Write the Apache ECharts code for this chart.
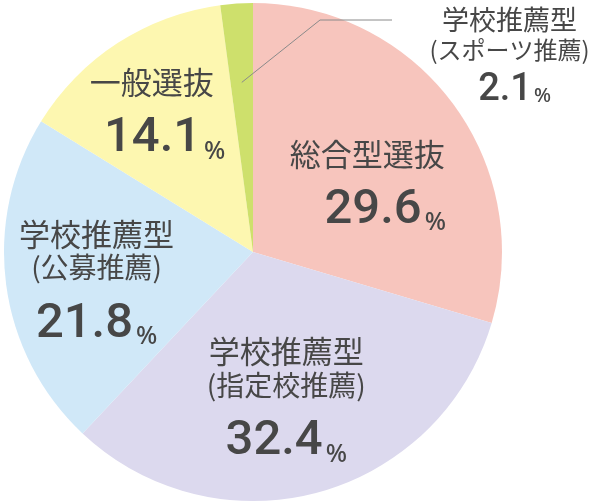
<!DOCTYPE html>
<html><head><meta charset="utf-8">
<script src="https://cdn.jsdelivr.net/npm/echarts@6/dist/echarts.min.js"></script>
<style>html,body{margin:0;padding:0;background:#fff}#c{width:599px;height:504px}</style>
</head><body><div id="c"></div>
<script>
// ---- data ----
const categories = ['総合型選抜', '学校推薦型(指定校推薦)', '学校推薦型(公募推薦)', '一般選抜', '学校推薦型(スポーツ推薦)'];
const titleLines = [['総合型選抜'], ['学校推薦型', '(指定校推薦)'], ['学校推薦型', '(公募推薦)'], ['一般選抜'], ['学校推薦型', '(スポーツ推薦)']];
const values = [29.6, 32.4, 21.8, 14.1, 2.1];

// ---- styles / layout ----
const colors = ['#f7c5bd', '#dcd9ee', '#d0e8f8', '#fdf7b0', '#cee06c'];
const textColor = '#474747';
const cjk = "'Noto Sans CJK JP', 'Noto Sans', sans-serif";
const numFont = "Roboto, sans-serif";
const labelShift = [[12, 18], [0, 33], [-30, 22], [-32, -23], [265, -64]];
const spacer = [36, 0, 0, 26, 10];
const leaderEnd = {x: 392, y: 20};
const leaderLen2 = 72;

function fmt(p) {
  const i = p.dataIndex;
  const small = i === 4;
  const lines = titleLines[i];
  let s = '';
  lines.forEach((l, k) => { s += '{' + (k === 0 ? (small ? 't2' : 't') : (small ? 's2' : 's')) + '|' + l + '}\n'; });
  const sp = spacer[i] ? '{sp' + i + '| }' : '';
  s += sp + '{' + (small ? 'n2' : 'n') + '|' + values[i].toFixed(1) + '}{' + (small ? 'p2' : 'p') + '|%}';
  return s;
}

const rich = {
  t: {fontSize: 31, lineHeight: 34, fontFamily: cjk, color: textColor},
  s: {fontSize: 28, lineHeight: 34, fontFamily: cjk, color: textColor},
  n: {fontSize: 49, lineHeight: 80, fontFamily: numFont, fontWeight: 500, color: textColor},
  p: {fontSize: 25, lineHeight: 80, verticalAlign: 'bottom', padding: [0, 0, 15, 3], fontFamily: "'Noto Sans', sans-serif", fontWeight: 500, color: textColor},
  t2: {fontSize: 27, lineHeight: 30, fontFamily: cjk, color: textColor},
  s2: {fontSize: 24, lineHeight: 30, fontFamily: cjk, color: textColor},
  n2: {fontSize: 38, lineHeight: 52, fontFamily: numFont, fontWeight: 500, color: textColor},
  p2: {fontSize: 20, lineHeight: 52, verticalAlign: 'bottom', padding: [0, 0, 10, 2], fontFamily: "'Noto Sans', sans-serif", fontWeight: 500, color: textColor},
  z: {fontSize: 2, lineHeight: 2}
};
spacer.forEach((w, i) => { if (w) rich['sp' + i] = {width: w, fontSize: 10}; });

const chart = echarts.init(document.getElementById('c'), null, {renderer: 'canvas'});
chart.setOption({
  animation: false,
  series: [
    {
      type: 'pie',
      z: 2,
      center: [253, 252],
      radius: [0, 249],
      startAngle: 90,
      clockwise: true,
      silent: true,
      avoidLabelOverlap: false,
      itemStyle: {borderWidth: 0},
      label: {
        show: true, position: 'inside', color: textColor, textBorderWidth: 0,
        align: 'center', formatter: fmt, rich: rich
      },
      labelLine: {show: false},
      labelLayout: function (p) { const o = labelShift[p.dataIndex]; return {dx: o[0], dy: o[1]}; },
      data: values.map((v, i) => ({value: v, name: categories[i], itemStyle: {color: colors[i]}}))
    },
    {
      type: 'pie',
      z: 6,
      center: [253, 252],
      radius: [0, 170],
      startAngle: 90,
      clockwise: true,
      silent: true,
      avoidLabelOverlap: false,
      itemStyle: {color: 'rgba(0,0,0,0)', borderWidth: 0},
      label: {show: true, position: 'outside', formatter: '{z|\u00a0}', rich: rich, color: textColor},
      labelLine: {show: true, length: 10, length2: leaderLen2, lineStyle: {color: '#8a8a8a', width: 1}},
      labelLayout: function (p) {
        if (p.dataIndex !== 4) return {};
        const a = p.labelLinePoints ? p.labelLinePoints[0] : [0, 0];
        return {
          x: leaderEnd.x, y: leaderEnd.y, align: 'left', verticalAlign: 'middle',
          labelLinePoints: [[a[0], a[1]], [leaderEnd.x - leaderLen2, leaderEnd.y], [leaderEnd.x, leaderEnd.y]]
        };
      },
      data: values.map((v, i) => ({
        value: v, name: categories[i],
        label: {show: i === 4}, labelLine: {show: i === 4}
      }))
    }
  ]
});
</script></body></html>
